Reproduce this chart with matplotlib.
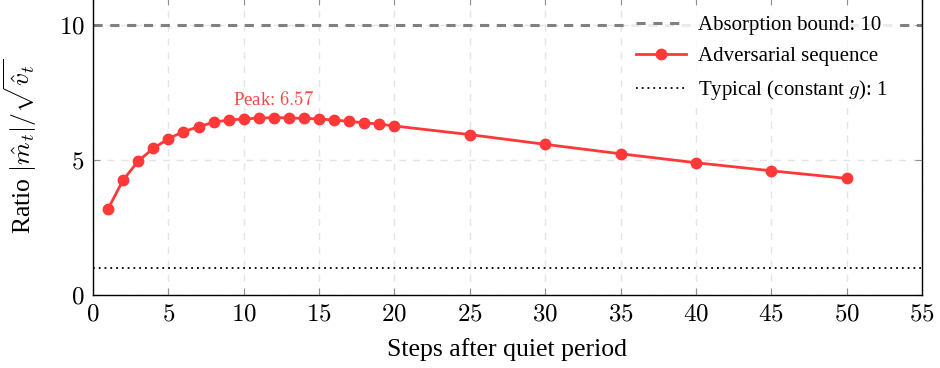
import matplotlib
matplotlib.use("Agg")
import matplotlib.pyplot as plt

steps = [1, 2, 3, 4, 5, 6, 7, 8, 9, 10, 11, 12, 13, 14, 15, 16, 17, 18, 19, 20,
         25, 30, 35, 40, 45, 50]
ratio = [3.19, 4.26, 4.96, 5.43, 5.79, 6.05, 6.23, 6.40, 6.48, 6.52, 6.55, 6.57,
         6.56, 6.54, 6.52, 6.48, 6.43, 6.38, 6.33, 6.26,
         5.94, 5.58, 5.23, 4.90, 4.60, 4.32]
absorption_bound = 10
typical_value = 1
peak_step = 12
peak_value = 6.57
xticks = [0, 5, 10, 15, 20, 25, 30, 35, 40, 45, 50, 55]
yticks = [0, 5, 10]

plt.rcParams['font.family'] = ['Liberation Serif', 'DejaVu Serif']
plt.rcParams['mathtext.fontset'] = 'cm'

fig = plt.figure(figsize=(9.4, 3.68), dpi=100)
ax = fig.add_axes([93/940, 73/368, 829/940, 297/368])

ax.set_xlim(0, 55)
ax.set_ylim(0, 11)

ax.grid(True, color='#e4e4e4', linestyle=(0, (5, 5)), linewidth=1.0)
ax.set_axisbelow(True)

l1, = ax.plot([0, 55], [absorption_bound, absorption_bound], color='#808080',
              linestyle=(0, (3, 2.5)), linewidth=2.2, label=f'Absorption bound: {absorption_bound}')
l2, = ax.plot(steps, ratio, color='#ff3838', linewidth=2.0, marker='o', markersize=7.5,
              label='Adversarial sequence')
l3, = ax.plot([0, 55], [typical_value, typical_value], color='black', linestyle=(0, (1, 2.2)),
              linewidth=1.3, label=f'Typical (constant $g$): {typical_value}')

ax.text(peak_step, peak_value + 0.65, f'Peak: ${peak_value}$', color='#ff4444', fontsize=13.5,
        ha='center', va='center')

ax.set_xticks(xticks)
ax.set_xticklabels([f'${v}$' for v in xticks], fontsize=18)
ax.set_yticks(yticks)
ax.set_yticklabels([f'${v}$' for v in yticks], fontsize=18)
ax.tick_params(direction='in', length=5, color='#909090', top=True, right=True, pad=6)
for s in ax.spines.values():
    s.set_linewidth(1.0)

ax.set_xlabel('Steps after quiet period', fontsize=18.5, labelpad=9)
ax.set_ylabel(r'Ratio $|\hat{m}_t|/\sqrt{\hat{v}_t}$', fontsize=18.5, labelpad=14)

leg = ax.legend(handles=[l1, l2, l3], loc='center', bbox_to_anchor=(0.807, 0.795),
                frameon=True, framealpha=0.85, edgecolor='none', fancybox=False,
                fontsize=15, handlelength=2.4, handletextpad=0.6, labelspacing=0.55,
                borderpad=0.3)

fig.savefig('out.png', dpi=100)
